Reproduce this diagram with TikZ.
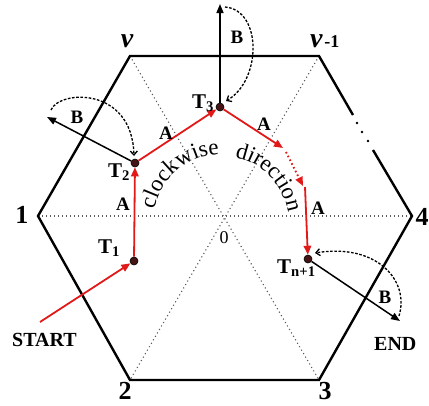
\documentclass[tikz,border=0pt]{standalone}
\usepackage{fontspec}
\setmainfont{Liberation Serif}
\usetikzlibrary{arrows.meta,decorations.text}
\definecolor{myred}{RGB}{225,25,25}
\definecolor{dotc}{RGB}{70,20,20}
\begin{document}
\begin{tikzpicture}[x=1pt,y=-1pt,
  hexl/.style={line width=2.4pt, line join=miter},
  diag/.style={line width=1.1pt, gray!70!black, dash pattern=on 1.1pt off 2.9pt},
  redl/.style={myred, line width=1.8pt, -{Triangle[length=9pt,width=7.5pt]}},
  barr/.style={line width=1.5pt, -{Triangle[length=9pt,width=7pt]}},
  darc/.style={line width=1.3pt, dash pattern=on 2.6pt off 1.6pt, -{Straight Barb[length=4pt,width=7pt]}},
  tdot/.style={circle, fill=dotc, draw=black, line width=0.6pt, inner sep=0pt, minimum size=8pt},
  tlab/.style={font=\fontsize{21}{21}\selectfont\bfseries, inner sep=0pt, anchor=base west},
  lab/.style={font=\fontsize{19}{19}\selectfont\bfseries, inner sep=0pt, anchor=base},
  num/.style={font=\fontsize{26}{26}\selectfont\bfseries, inner sep=0pt, anchor=base},
]
\useasboundingbox (0,0) rectangle (429,405);
% hexagon corners
\coordinate (V) at (130,56);
\coordinate (Vm) at (319,56);
\coordinate (P1) at (38,216);
\coordinate (P4) at (412,216);
\coordinate (P2) at (130,380);
\coordinate (P3) at (319,380);
\coordinate (C) at (222,223);
\coordinate (g1) at (353,115);
\coordinate (g2) at (373,150);
% diagonals
\draw[diag] (V) -- (P3);
\draw[diag] (Vm) -- (P2);
\draw[diag] (P1) -- (P4);
% hexagon
\draw[hexl] (g2) -- (P4) -- (P3) -- (P2) -- (P1) -- (V) -- (Vm) -- (g1);
\fill (357,123) circle[radius=1.4pt];
\fill (362,132) circle[radius=1.4pt];
\fill (368,141) circle[radius=1.4pt];
% corner labels
\node[num] (l1) at (22,223) {1};
\node[num] (l4) at (422,225) {4};
\node[num] (l2) at (125,399) {2};
\node[num] (l3) at (325,399) {3};
\node[inner sep=0pt, anchor=base] (lv) at (127,47) {\fontsize{28}{28}\selectfont\bfseries\itshape v};
\node[inner sep=0pt, anchor=base west] (lvm) at (310,47) {{\fontsize{28}{28}\selectfont\bfseries\itshape v}\,{\fontsize{18}{18}\selectfont\bfseries -1}};
\node[inner sep=0pt, anchor=base, font=\fontsize{18}{18}\selectfont] (l0) at (224,243) {0};
% arc text
\path[decorate, decoration={text along path, text={|\fontsize{23}{23}\selectfont|clockwise}, text align=center}]
  (C) ++(170:69pt) arc[start angle=170, end angle=91, radius=69pt];
\path[decorate, decoration={text along path, text={|\fontsize{23}{23}\selectfont|direction}, text align=center}]
  (C) ++(80:67pt) arc[start angle=80, end angle=8, radius=67pt];
% T points
\node[tdot] (T1) at (134,261) {};
\node[tdot] (T2) at (135,163) {};
\node[tdot] (T3) at (220,107) {};
\node[tdot] (Tn) at (308,259) {};
% red path
\coordinate (S0) at (40,322);
\coordinate (R1) at (283,148);
\coordinate (R2) at (286,152);
\coordinate (R3) at (303,186);
\coordinate (R4) at (305,187);
\draw[redl] (S0) -- (T1);
\draw[redl] (T1) -- (T2);
\draw[redl] (T2) -- (T3);
\draw[redl] (T3) -- (R1);
\draw[redl, dash pattern=on 1.6pt off 2.6pt] (R2) -- (R3);
\draw[redl] (R4) -- (Tn);
% B arrows
\coordinate (B2) at (47,117);
\coordinate (B3) at (220,4);
\coordinate (Bn) at (400,321);
\draw[barr] (T2) -- (B2);
\draw[barr] (T3) -- (B3);
\draw[barr] (Tn) -- (Bn);
% dashed arcs
\coordinate (d2s) at (51,110);
\coordinate (d2e) at (134,156);
\draw[darc] (d2s) .. controls (59,90) and (132,86) .. (d2e);
\coordinate (d3s) at (225,7);
\coordinate (d3e) at (226,101);
\draw[darc] (d3s) .. controls (262,10) and (262,80) .. (d3e);
\coordinate (dns) at (399,316);
\coordinate (dne) at (315,253);
\draw[darc] (dns) .. controls (410,280) and (376,243) .. (dne);
% labels
\node[lab] (A1) at (123,210) {A};
\node[lab] (A2) at (166,139) {A};
\node[lab] (A3) at (264,130) {A};
\node[lab] (A4) at (318,214) {A};
\node[lab] (Bl2) at (77,123) {B};
\node[lab] (Bl3) at (237,43) {B};
\node[lab] (Bln) at (385,303) {B};
\node[tlab] (t1) at (98,253) {T\textsubscript{1}};
\node[tlab] (t2) at (108,177) {T\textsubscript{2}};
\node[tlab] (t3) at (192,108) {T\textsubscript{3}};
\node[tlab] (tn) at (277,273) {T\textsubscript{n+1}};
\node[tlab, font=\fontsize{20}{20}\selectfont\bfseries] (start) at (12,346) {START};
\node[tlab, font=\fontsize{20}{20}\selectfont\bfseries] (end) at (374,350) {END};
\end{tikzpicture}
\end{document}
